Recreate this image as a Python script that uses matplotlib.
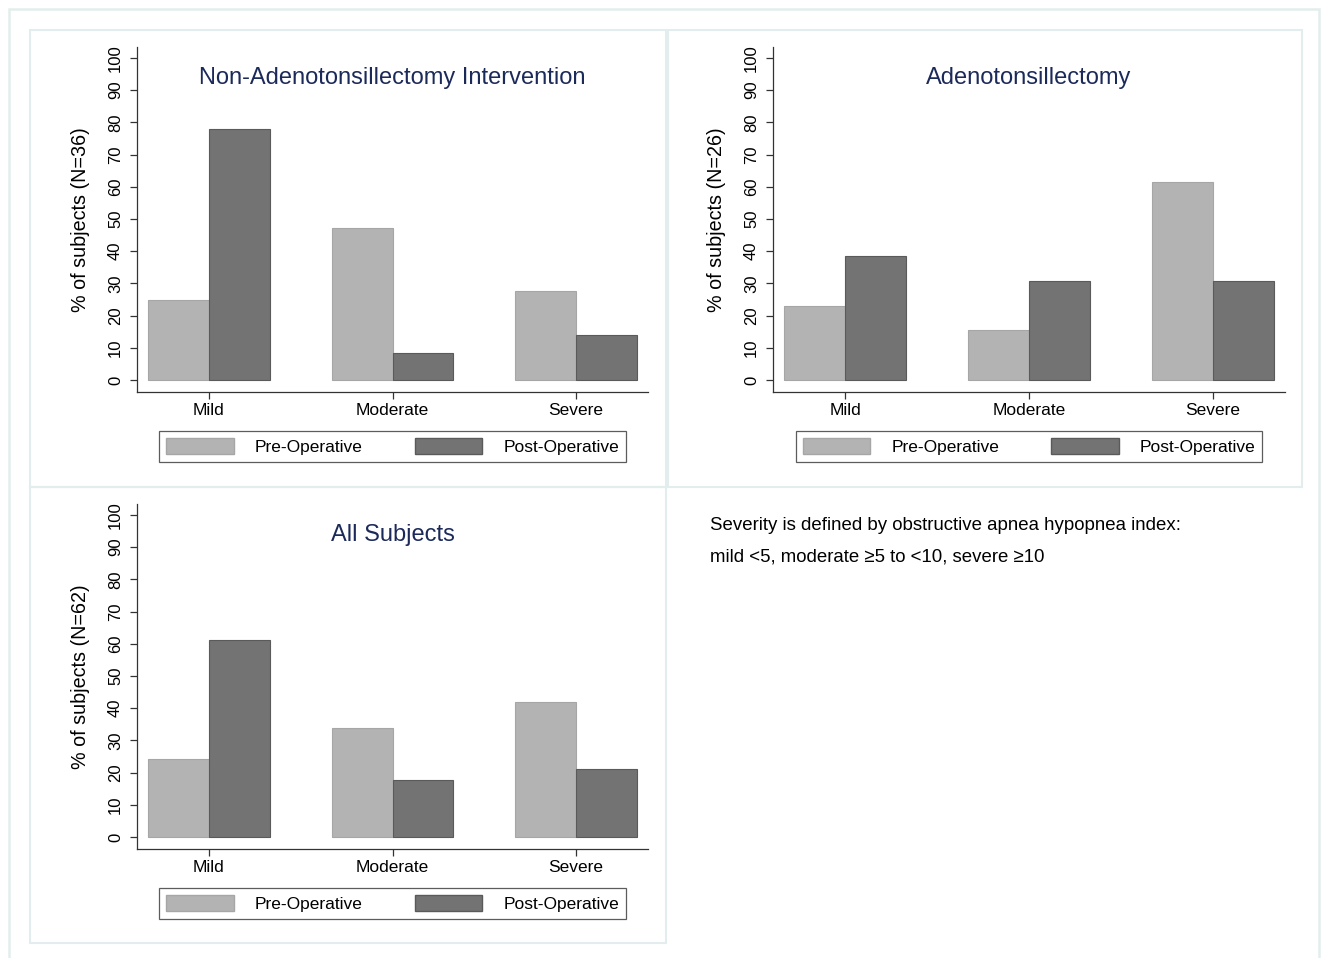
import matplotlib
matplotlib.use("Agg")
import matplotlib.pyplot as plt
from matplotlib.patches import Patch, Rectangle
import numpy as np

W, H = 1322, 958

categories = ['Mild', 'Moderate', 'Severe']
series_labels = ['Pre-Operative', 'Post-Operative']

# % of subjects by OAHI severity group
non_at_pre = [25.0, 47.2, 27.8]
non_at_post = [77.8, 8.3, 13.9]
at_pre = [23.1, 15.4, 61.5]
at_post = [38.5, 30.8, 30.8]
all_pre = [24.2, 33.9, 41.9]
all_post = [61.3, 17.7, 21.0]

panel_titles = ['Non-Adenotonsillectomy Intervention', 'Adenotonsillectomy', 'All Subjects']
panel_ylabels = ['% of subjects (N=36)', '% of subjects (N=26)', '% of subjects (N=62)']
yticks = list(range(0, 101, 10))

note_lines = ['Severity is defined by obstructive apnea hypopnea index:',
              'mild <5, moderate \u22655 to <10, severe \u226510']

PRE_COLOR = '#b3b3b3'
POST_COLOR = '#737373'
TITLE_COLOR = '#1c2a5a'
FRAME_COLOR = '#e4eded'

plt.rcParams['font.family'] = ['Liberation Sans', 'DejaVu Sans']

fig = plt.figure(figsize=(W / 100, H / 100), dpi=100)
fig.patch.set_facecolor('white')


def px_axes(left, top, right, bottom):
    return fig.add_axes([left / W, 1 - bottom / H, (right - left) / W, (bottom - top) / H])


def px_rect(left, top, right, bottom, lw=1.5):
    fig.add_artist(Rectangle((left / W, 1 - bottom / H), (right - left) / W, (bottom - top) / H,
                             transform=fig.transFigure, fill=False,
                             edgecolor=FRAME_COLOR, linewidth=lw))


# panel frames
px_rect(9, 9, 1319, 990, lw=1.8)
px_rect(30, 30, 666, 487)
px_rect(668, 30, 1302, 487)
px_rect(30, 487, 666, 943)


def draw_panel(ax, pre, post, title, ylabel):
    x = np.arange(len(categories))
    w = 0.332
    ax.bar(x - w / 2, pre, width=w, color=PRE_COLOR, edgecolor='#a6a6a6', linewidth=0.8)
    ax.bar(x + w / 2, post, width=w, color=POST_COLOR, edgecolor='#5a5a5a', linewidth=0.8)
    ax.set_xlim(-0.392, 2.392)
    ax.set_ylim(-3.7, 103.4)
    ax.set_xticks(x)
    ax.set_xticklabels(categories, fontsize=12.5)
    ax.set_yticks(yticks)
    ax.set_yticklabels([str(v) for v in yticks], rotation=90, va='center', fontsize=12)
    ax.tick_params(axis='both', direction='out', length=5, width=0.9, color='#333333')
    ax.tick_params(axis='x', pad=3)
    ax.tick_params(axis='y', pad=5)
    for s in ('top', 'right'):
        ax.spines[s].set_visible(False)
    for s in ('left', 'bottom'):
        ax.spines[s].set_color('#333333')
        ax.spines[s].set_linewidth(0.9)
    ax.set_ylabel(ylabel, fontsize=14.2, labelpad=13)
    ax.text(0.5, 0.91, title, transform=ax.transAxes, ha='center', va='center',
            fontsize=17, color=TITLE_COLOR)
    handles = [Patch(facecolor=PRE_COLOR, edgecolor='#a6a6a6'),
               Patch(facecolor=POST_COLOR, edgecolor='#5a5a5a')]
    leg = ax.legend(handles, series_labels, loc='upper center', bbox_to_anchor=(0.5, -0.113),
                    ncol=2, fontsize=12.5, frameon=True, fancybox=False, borderaxespad=0,
                    handlelength=3.9, handleheight=1.05, handletextpad=1.2,
                    columnspacing=3.0, borderpad=0.4)
    leg.get_frame().set_edgecolor('#333333')
    leg.get_frame().set_linewidth(0.9)


ax1 = px_axes(137, 47, 648, 392)
draw_panel(ax1, non_at_pre, non_at_post, panel_titles[0], panel_ylabels[0])

ax2 = px_axes(773, 47, 1285, 392)
draw_panel(ax2, at_pre, at_post, panel_titles[1], panel_ylabels[1])

ax3 = px_axes(137, 504, 648, 849)
draw_panel(ax3, all_pre, all_post, panel_titles[2], panel_ylabels[2])

fig.text(710 / W, 1 - 526 / H, note_lines[0], fontsize=13.4, va='center', ha='left')
fig.text(710 / W, 1 - 557 / H, note_lines[1], fontsize=13.4, va='center', ha='left')

fig.savefig('out.png', dpi=100)
